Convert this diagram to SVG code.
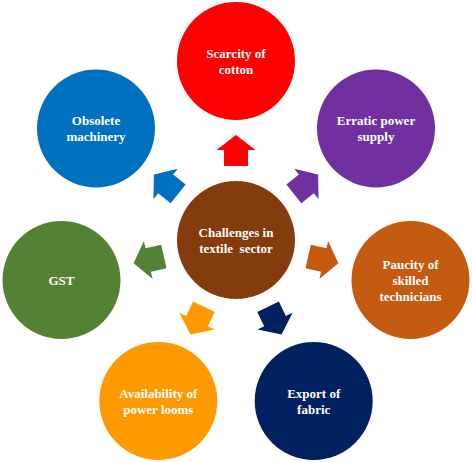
<svg xmlns="http://www.w3.org/2000/svg" width="472" height="462" viewBox="0 0 472 462">
<style>
text{font-family:"Liberation Serif","Times New Roman",serif;font-weight:bold;font-size:13px;fill:#fff;text-anchor:middle;white-space:pre}
.red{fill:#FF0000}.purple{fill:#7030A0}.rust{fill:#C55A11}.navy{fill:#002060}.orange{fill:#FF9900}.green{fill:#548235}.blue{fill:#0070C0}.brown{fill:#843C0C}
</style>
<defs>
<polygon id="arr" points="-12,-74 12,-74 12,-90 19.5,-90 0,-105 -19.5,-90 -12,-90"/>
</defs>
<rect width="472" height="462" fill="#fff"/>
<g id="connectors">
<use href="#arr" class="red" transform="translate(236,240)"/>
<use href="#arr" class="purple" transform="translate(236,240) rotate(51.43)"/>
<use href="#arr" class="rust" transform="translate(236,240) rotate(102.86)"/>
<use href="#arr" class="navy" transform="translate(236,240) rotate(154.29)"/>
<use href="#arr" class="orange" transform="translate(236,240) rotate(205.71)"/>
<use href="#arr" class="green" transform="translate(236,240) rotate(257.14)"/>
<use href="#arr" class="blue" transform="translate(236,240) rotate(308.57)"/>
</g>
<g id="center">
<circle class="brown" cx="236" cy="240" r="59"/>
<text x="236" y="236.5">Challenges in</text>
<text x="236" y="252.5">textile  sector</text>
</g>
<g id="scarcity">
<circle class="red" cx="236" cy="61" r="59"/>
<text x="236" y="57.5">Scarcity of</text>
<text x="236" y="73.5">cotton</text>
</g>
<g id="erratic">
<circle class="purple" cx="376" cy="128.4" r="59"/>
<text x="376" y="125">Erratic power</text>
<text x="376" y="141">supply</text>
</g>
<g id="paucity">
<circle class="rust" cx="410.5" cy="280" r="59"/>
<text x="410.5" y="268.5">Paucity of</text>
<text x="410.5" y="284.5">skilled</text>
<text x="410.5" y="300.5">technicians</text>
</g>
<g id="export">
<circle class="navy" cx="313.7" cy="401" r="59"/>
<text x="313.7" y="397.5">Export of</text>
<text x="313.7" y="413.5">fabric</text>
</g>
<g id="availability">
<circle class="orange" cx="158.3" cy="401" r="59"/>
<text x="158.3" y="397.5">Availability of</text>
<text x="158.3" y="413.5">power looms</text>
</g>
<g id="gst">
<circle class="green" cx="61.5" cy="280" r="59"/>
<text x="61.5" y="284.5">GST</text>
</g>
<g id="obsolete">
<circle class="blue" cx="96" cy="128.4" r="59"/>
<text x="96" y="125">Obsolete</text>
<text x="96" y="141">machinery</text>
</g>
</svg>
